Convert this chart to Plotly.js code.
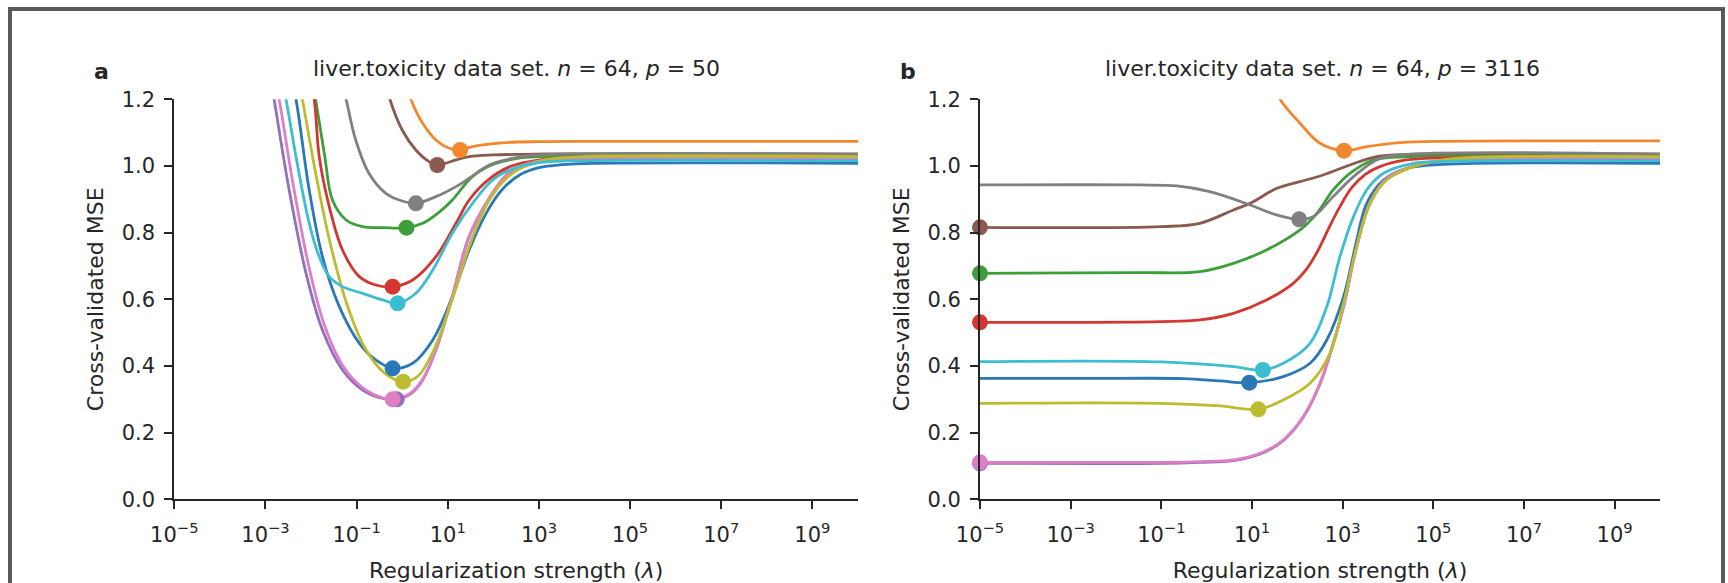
<!DOCTYPE html>
<html>
<head>
<meta charset="utf-8">
<script src="https://cdn.plot.ly/plotly-3.0.1.min.js"></script>
<style>
  html, body { margin: 0; padding: 0; background: #ffffff; width: 1728px; height: 583px; overflow: hidden; }
  #chart { position: absolute; left: 0; top: 0; width: 1728px; height: 583px; }
  #frame { position: absolute; left: 8px; top: 7px; width: 1709px; height: 600px;
           border-left: 4px solid #5a5a5a; border-top: 4px solid #5a5a5a; border-right: 4px solid #5a5a5a;
           pointer-events: none; }
</style>
</head>
<body>
<div id="chart"></div>
<div id="frame"></div>
<script>
// ---- Colours (matplotlib tab10 order, slightly muted as in the reference) ----
const seriesNames = ["blue", "orange", "green", "red", "purple", "brown", "pink", "gray", "olive", "cyan"];
const seriesColors = ["#2a78b6", "#f2872e", "#3c9f3a", "#d23731", "#9170be", "#8a5a4f", "#de7fc5", "#808080", "#bcbc2e", "#3dbdd0"];

// ---- Axis ticks ----
const xTickExp = [-5, -3, -1, 1, 3, 5, 7, 9];
const yTickVals = [0.0, 0.2, 0.4, 0.6, 0.8, 1.0, 1.2];

// ---- Panel a (p = 50): log10(lambda) and CV MSE per curve ----
const aBlueE   = [-2.6, -2.33, -2.04, -1.75, -1.38, -0.94, -0.58, -0.21, 0.23, 0.67, 1.10, 1.47, 1.85, 2.2, 2.6, 3.0, 3.5, 4.2, 10];
const aBlueY   = [1.38, 1.2, 0.928, 0.728, 0.578, 0.468, 0.418, 0.393, 0.408, 0.478, 0.608, 0.748, 0.86, 0.93, 0.975, 0.995, 1.004, 1.008, 1.008];
const aOrangeE = [0.0, 0.19, 0.45, 0.74, 1.03, 1.27, 1.54, 2.27, 3.0, 4.0, 10];
const aOrangeY = [1.29, 1.2, 1.128, 1.078, 1.053, 1.048, 1.058, 1.070, 1.073, 1.074, 1.074];
const aGreenE  = [-2.05, -1.9, -1.7, -1.53, -1.23, -0.87, -0.4, 0.095, 0.45, 0.8, 1.1, 1.54, 2.0, 2.5, 3.0, 4.0, 10];
const aGreenY  = [1.32, 1.2, 1.03, 0.898, 0.838, 0.818, 0.815, 0.815, 0.828, 0.86, 0.898, 0.968, 1.005, 1.022, 1.028, 1.03, 1.03];
const aRedE    = [-2.1, -1.93, -1.82, -1.60, -1.31, -0.94, -0.58, -0.21, 0.23, 0.74, 1.18, 1.47, 1.9, 2.4, 3.0, 3.6, 10];
const aRedY    = [1.32, 1.2, 1.028, 0.878, 0.748, 0.668, 0.643, 0.638, 0.658, 0.728, 0.828, 0.898, 0.96, 1.0, 1.018, 1.024, 1.025];
const aPurpleE = [-3.0, -2.81, -2.48, -2.11, -1.75, -1.31, -0.87, -0.43, -0.12, 0.2, 0.45, 0.74, 1.10, 1.47, 1.91, 2.3, 2.7, 3.2, 4.0, 10];
const aPurpleY = [1.36, 1.2, 0.928, 0.678, 0.508, 0.388, 0.328, 0.303, 0.300, 0.318, 0.358, 0.448, 0.608, 0.788, 0.90, 0.97, 1.0, 1.015, 1.02, 1.02];
const aBrownE  = [-0.45, -0.27, 0.0, 0.30, 0.59, 0.77, 1.18, 1.47, 2.0, 2.6, 3.2, 10];
const aBrownY  = [1.30, 1.2, 1.108, 1.048, 1.013, 1.003, 1.018, 1.028, 1.033, 1.035, 1.036, 1.036];
const aPinkE   = [-2.9, -2.70, -2.4, -2.05, -1.7, -1.3, -0.87, -0.45, -0.21, 0.15, 0.45, 0.74, 1.10, 1.47, 1.91, 2.3, 2.7, 3.2, 4.0, 10];
const aPinkY   = [1.33, 1.2, 0.95, 0.70, 0.52, 0.40, 0.335, 0.305, 0.300, 0.315, 0.36, 0.45, 0.61, 0.79, 0.905, 0.975, 1.005, 1.018, 1.022, 1.022];
const aGrayE   = [-1.4, -1.23, -1.02, -0.73, -0.36, 0.0, 0.30, 0.74, 1.18, 1.47, 1.91, 2.63, 3.3, 10];
const aGrayY   = [1.30, 1.2, 1.078, 0.978, 0.918, 0.895, 0.888, 0.908, 0.938, 0.963, 1.003, 1.028, 1.035, 1.035];
const aOliveE  = [-2.4, -2.19, -1.9, -1.6, -1.2, -0.8, -0.4, 0.02, 0.35, 0.7, 1.1, 1.5, 1.91, 2.3, 2.7, 3.2, 4.0, 10];
const aOliveY  = [1.35, 1.2, 0.98, 0.78, 0.58, 0.45, 0.38, 0.353, 0.37, 0.45, 0.60, 0.77, 0.898, 0.965, 1.0, 1.02, 1.028, 1.028];
const aCyanE   = [-2.75, -2.55, -2.33, -2.04, -1.82, -1.6, -1.31, -0.87, -0.43, -0.10, 0.30, 0.67, 1.10, 1.6, 2.0, 2.5, 3.0, 3.6, 10];
const aCyanY   = [1.33, 1.2, 1.028, 0.828, 0.728, 0.668, 0.638, 0.618, 0.598, 0.588, 0.618, 0.688, 0.798, 0.898, 0.96, 0.995, 1.01, 1.015, 1.016];

// minima markers, panel a
const aMinE = [-0.21, 1.27, 0.095, -0.21, -0.12, 0.77, -0.21, 0.30, 0.02, -0.10];
const aMinY = [0.393, 1.048, 0.815, 0.638, 0.300, 1.003, 0.300, 0.888, 0.353, 0.588];

// ---- Panel b (p = 3116) ----
const bBlueE   = [-5, -2, -0.5, 0.3, 0.94, 1.69, 2.28, 2.65, 3.02, 3.31, 3.53, 3.90, 4.41, 5.2, 10];
const bBlueY   = [0.363, 0.363, 0.362, 0.355, 0.350, 0.368, 0.408, 0.478, 0.608, 0.778, 0.888, 0.958, 0.993, 1.005, 1.008];
const bOrangeE = [1.45, 1.62, 2.06, 2.50, 3.03, 3.53, 4.27, 5.2, 10];
const bOrangeY = [1.26, 1.2, 1.128, 1.068, 1.046, 1.058, 1.070, 1.074, 1.075];
const bGreenE  = [-5, -1.5, -0.15, 0.59, 1.32, 2.06, 2.43, 2.79, 3.16, 3.68, 4.5, 10];
const bGreenY  = [0.678, 0.680, 0.683, 0.708, 0.748, 0.808, 0.858, 0.928, 0.978, 1.018, 1.028, 1.030];
const bRedE    = [-5, -1, -0.15, 0.59, 1.32, 1.91, 2.2, 2.45, 2.7, 2.94, 3.2, 3.5, 3.82, 4.41, 5.2, 10];
const bRedY    = [0.531, 0.533, 0.538, 0.558, 0.598, 0.648, 0.690, 0.745, 0.815, 0.878, 0.935, 0.975, 0.998, 1.018, 1.024, 1.025];
const bPurpleE = [-5, -1, -0.15, 0.59, 1.18, 1.69, 2.13, 2.50, 2.79, 3.02, 3.31, 3.60, 3.97, 4.56, 5.3, 10];
const bPurpleY = [0.108, 0.108, 0.111, 0.116, 0.136, 0.176, 0.246, 0.346, 0.466, 0.578, 0.758, 0.886, 0.960, 0.998, 1.016, 1.020];
const bBrownE  = [-5, -1, -0.15, 0.59, 0.96, 1.55, 2.06, 2.57, 3.16, 3.75, 4.5, 10];
const bBrownY  = [0.816, 0.818, 0.828, 0.868, 0.888, 0.933, 0.953, 0.973, 1.003, 1.028, 1.035, 1.036];
const bPinkE   = [-5, -1, -0.15, 0.59, 1.18, 1.69, 2.13, 2.50, 2.79, 3.02, 3.31, 3.60, 3.97, 4.56, 5.3, 10];
const bPinkY   = [0.111, 0.111, 0.113, 0.118, 0.138, 0.178, 0.248, 0.348, 0.468, 0.578, 0.758, 0.888, 0.963, 1.000, 1.018, 1.022];
const bGrayE   = [-5, -1.5, -0.66, 0.07, 0.96, 1.5, 2.04, 2.35, 2.79, 3.24, 3.75, 4.27, 10];
const bGrayY   = [0.943, 0.943, 0.940, 0.923, 0.883, 0.855, 0.840, 0.848, 0.908, 0.968, 1.018, 1.033, 1.035];
const bOliveE  = [-5, -1, 0.3, 1.14, 1.69, 2.28, 2.72, 3.02, 3.31, 3.60, 3.97, 4.56, 5.3, 10];
const bOliveY  = [0.288, 0.288, 0.280, 0.270, 0.298, 0.348, 0.438, 0.588, 0.758, 0.888, 0.958, 0.998, 1.020, 1.028];
const bCyanE   = [-5, -1, 0.59, 1.24, 1.69, 2.28, 2.65, 2.94, 3.24, 3.53, 3.90, 4.56, 5.3, 10];
const bCyanY   = [0.413, 0.412, 0.398, 0.388, 0.408, 0.468, 0.578, 0.728, 0.848, 0.928, 0.978, 1.008, 1.014, 1.016];

const bMinE = [0.94, 3.03, -5, -5, -5, -5, -5, 2.04, 1.14, 1.24];
const bMinY = [0.350, 1.046, 0.678, 0.531, 0.108, 0.816, 0.111, 0.840, 0.270, 0.388];

// ---- Titles ----
const titleA = "liver.toxicity data set. <i>n</i> = 64, <i>p</i> = 50";
const titleB = "liver.toxicity data set. <i>n</i> = 64, <i>p</i> = 3116";
const panelLabels = ["a", "b"];
const xTitle = "Regularization strength (<i>λ</i>)";
const yTitle = "Cross-validated MSE";

// ---- Build traces ----
const toLam = e => e.map(v => Math.pow(10, v));
const aE = [aBlueE, aOrangeE, aGreenE, aRedE, aPurpleE, aBrownE, aPinkE, aGrayE, aOliveE, aCyanE];
const aY = [aBlueY, aOrangeY, aGreenY, aRedY, aPurpleY, aBrownY, aPinkY, aGrayY, aOliveY, aCyanY];
const bE = [bBlueE, bOrangeE, bGreenE, bRedE, bPurpleE, bBrownE, bPinkE, bGrayE, bOliveE, bCyanE];
const bY = [bBlueY, bOrangeY, bGreenY, bRedY, bPurpleY, bBrownY, bPinkY, bGrayY, bOliveY, bCyanY];

const traces = [];
function addPanel(E, Y, minE, minY, xa, ya) {
  for (let i = 0; i < E.length; i++) {
    traces.push({
      type: "scatter", mode: "lines", x: toLam(E[i]), y: Y[i],
      xaxis: xa, yaxis: ya, name: seriesNames[i], showlegend: false,
      line: { color: seriesColors[i], width: 2.8, shape: "spline", smoothing: 1 },
      hoverinfo: "skip"
    });
  }
  for (let i = 0; i < E.length; i++) {
    traces.push({
      type: "scatter", mode: "markers", x: toLam([minE[i]]), y: [minY[i]],
      xaxis: xa, yaxis: ya, showlegend: false, cliponaxis: false,
      marker: { color: seriesColors[i], size: 16, line: { width: 0 } },
      hoverinfo: "skip"
    });
  }
}
addPanel(aE, aY, aMinE, aMinY, "x", "y");
addPanel(bE, bY, bMinE, bMinY, "x2", "y2");

const FAM = "DejaVu Sans, sans-serif";
const fontLab = { family: FAM, size: 22, color: "#262626" };
const fontTick = { family: FAM, size: 21, color: "#262626" };
const W = 1728, H = 583;
const px = v => v / W, py = v => (H - v) / H;

function xAxis(domain, anchor) {
  return {
    type: "log", domain: domain, anchor: anchor, range: [-5, 10],
    showline: true, linecolor: "#262626", linewidth: 2, mirror: false,
    showgrid: false, zeroline: false,
    ticks: "outside", ticklen: 8, tickwidth: 2, tickcolor: "#262626",
    tickvals: toLam(xTickExp),
    ticktext: xTickExp.map(e => "10<sup>" + (e < 0 ? "−" + (-e) : e) + "</sup>"),
    tickfont: fontTick, ticklabelstandoff: 7,
    title: { text: xTitle, font: fontLab, standoff: 21 }
  };
}
function yAxis(domain, anchor) {
  return {
    domain: domain, anchor: anchor, range: [0, 1.2],
    showline: true, linecolor: "#262626", linewidth: 2, mirror: false,
    showgrid: false, zeroline: false,
    ticks: "outside", ticklen: 8, tickwidth: 2, tickcolor: "#262626",
    tickvals: yTickVals, ticktext: yTickVals.map(v => v.toFixed(1)),
    tickfont: fontTick, ticklabelstandoff: 5,
    title: { text: yTitle, font: fontLab, standoff: 12 }
  };
}

const yDom = [py(499.3), py(99.3)];
const layout = {
  width: W, height: H,
  margin: { l: 0, r: 0, t: 0, b: 0 },
  paper_bgcolor: "#ffffff", plot_bgcolor: "#ffffff",
  font: fontLab,
  xaxis: xAxis([px(174.3), px(858)], "y"),
  yaxis: yAxis(yDom, "x"),
  xaxis2: xAxis([px(980), px(1660)], "y2"),
  yaxis2: yAxis(yDom, "x2"),
  annotations: [
    { text: titleA, xref: "paper", yref: "paper", x: px(516), y: py(68), xanchor: "center", yanchor: "middle", showarrow: false, font: fontLab },
    { text: titleB, xref: "paper", yref: "paper", x: px(1322), y: py(68), xanchor: "center", yanchor: "middle", showarrow: false, font: fontLab },
    { text: "<b>" + panelLabels[0] + "</b>", xref: "paper", yref: "paper", x: px(92), y: py(71), xanchor: "left", yanchor: "middle", showarrow: false, font: { family: FAM, size: 22, color: "#262626" } },
    { text: "<b>" + panelLabels[1] + "</b>", xref: "paper", yref: "paper", x: px(898), y: py(71), xanchor: "left", yanchor: "middle", showarrow: false, font: { family: FAM, size: 22, color: "#262626" } }
  ]
};

Plotly.newPlot("chart", traces, layout, { displayModeBar: false });
</script>
</body>
</html>
